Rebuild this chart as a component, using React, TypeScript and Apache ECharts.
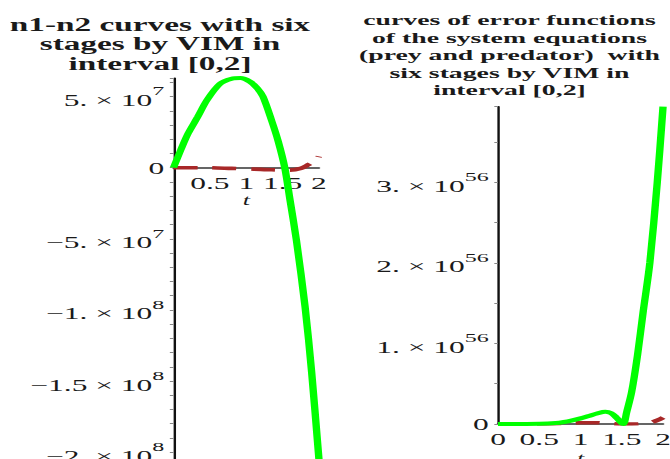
import React, { useEffect, useRef } from "react";
import * as echarts from "echarts";

// ---------- data ----------
const leftTitle = ["n1-n2 curves with six", "stages by VIM in", "interval [0,2]"];
const rightTitle = [
  "curves of error functions",
  "of the system equations",
  "(prey and predator)  with",
  "six stages by VIM in",
  "interval [0,2]",
];

// n1-n2 (left), [t, value]
const leftGreen: [number, number][] = [
  [0, 0], [0.1, 1.25e7], [0.2, 2.4e7], [0.33, 3.55e7], [0.46, 4.75e7], [0.64, 5.9e7],
  [0.8, 6.25e7], [0.92, 6.3e7], [1.05, 6.05e7], [1.15, 5.6e7], [1.23, 5.0e7],
  [1.35, 3.3e7], [1.44, 1.85e7], [1.53, 0], [1.6, -2.2e7], [1.69, -5.1e7],
  [1.81, -9.8e7], [1.9, -1.44e8], [2.0, -2.05e8],
];
const leftRed: [number, number][] = [
  [0, 0], [0.4, 0], [0.8, -0.05e7], [1.1, -0.1e7], [1.35, -0.15e7], [1.6, -0.17e7],
  [1.75, -0.05e7], [1.85, 0.2e7], [1.95, 0.5e7], [2.0, 0.8e7],
];

// error functions (right), values in units of 10^56
const rightGreenE56: [number, number][] = [
  [0, 0], [0.5, 0.003], [0.7, 0.012], [0.8, 0.025], [0.9, 0.045], [1.0, 0.07],
  [1.1, 0.1], [1.2, 0.13], [1.3, 0.152], [1.37, 0.135], [1.43, 0.085], [1.5, 0.01],
  [1.52, 0.0], [1.56, 0.15], [1.62, 0.4], [1.69, 0.85], [1.76, 1.4], [1.84, 2.0],
  [1.93, 3.0], [2.0, 3.94],
];
const rightRedE56: [number, number][] = [
  [0, 0], [0.5, 0], [0.85, 0.008], [1.0, 0.016], [1.2, 0.016], [1.35, 0.006], [1.5, 0],
  [1.7, 0.003], [1.84, 0.016], [1.96, 0.058], [2.0, 0.08],
];

const xTickValues = [0, 0.5, 1, 1.5, 2];
const leftXTickLabels = ["", "0.5", "1", "1.5", "2"];
const rightXTickLabels = ["0", "0.5", "1", "1.5", "2"];

const leftYTickValues = [5e7, 0, -5e7, -1e8, -1.5e8, -2e8];
const leftYTickMantissas = ["5.", "0", "−5.", "−1.", "−1.5", "−2."];
const leftYTickExponents = ["7", "", "7", "8", "8", "8"];

const rightYTickValues = [0, 1, 2, 3];
const rightYTickMantissas = ["0", "1.", "2.", "3."];
const rightYTickExponents = ["", "56", "56", "56"];

// ---------- layout ----------
const SX = 1.85; // horizontal stretch of the original picture
const VIEW_W = 670;
const VIEW_H = 459;
const CHART_H = 470;
const DW = VIEW_W / SX;

const LEFT_Y_MIN = -2.1e8;
const LEFT_Y_MAX = 6.3e7;
const LEFT_GRID_TOP = 78.1;
const LEFT_GRID_H = 388.2;
// distance from the bottom of the left grid up to the y = 0 line
const LEFT_ZERO_OFFSET = (LEFT_GRID_H * (0 - LEFT_Y_MIN)) / (LEFT_Y_MAX - LEFT_Y_MIN);

const FONT = "'Liberation Serif', 'Times New Roman', Times, serif";
const INK = "#1a1a1a";
const GREEN = "#00ff00";
const RED = "#a82828";

function findIdx(values: number[], v: number, tol: number) {
  return values.findIndex((t) => Math.abs(t - v) < tol);
}

function yFormatter(values: number[], mants: string[], exps: string[], tol: number) {
  return (v: number) => {
    const i = findIdx(values, v, tol);
    if (i < 0) return "";
    if (!exps[i]) return `{z|${mants[i]}}`;
    return `{m|${mants[i]} × 10}{e|${exps[i]}}`;
  };
}

function xFormatter(labels: string[]) {
  return (v: number) => {
    const i = findIdx(xTickValues, v, 1e-6);
    return i < 0 ? "" : labels[i];
  };
}

const yRich = {
  z: { fontSize: 17, fontFamily: FONT, color: INK },
  m: { fontSize: 17, fontFamily: FONT, color: INK, lineHeight: 24, verticalAlign: "bottom" },
  e: { fontSize: 13, fontFamily: FONT, color: INK, verticalAlign: "top" },
};

function xAxisOf(gridIndex: number, labels: string[], nameGap: number, offset: number) {
  return {
    type: "value",
    gridIndex,
    position: "bottom",
    offset,
    min: 0,
    max: 2,
    interval: 0.5,
    name: "t",
    nameLocation: "middle",
    nameGap,
    nameMoveOverlap: false,
    nameTextStyle: { fontFamily: FONT, fontStyle: "italic", fontSize: 14, color: INK },
    axisLine: { onZero: false, lineStyle: { color: "#333", width: 1.5 } },
    axisTick: { show: false },
    splitLine: { show: false },
    axisLabel: {
      formatter: xFormatter(labels),
      fontFamily: FONT,
      fontSize: 17,
      color: INK,
      margin: gridIndex === 0 ? 7 : 6,
    },
  };
}

function buildOption() {
  return {
    animation: false,
    backgroundColor: "#ffffff",
    title: [
      {
        text: leftTitle.join("\n"),
        left: 86.5,
        top: 15,
        textAlign: "center",
        padding: 0,
        textStyle: { fontFamily: FONT, fontSize: 18, fontWeight: "bold", color: INK, lineHeight: 19.5 },
      },
      {
        text: rightTitle.join("\n"),
        left: 275.4,
        top: 11.5,
        textAlign: "center",
        padding: 0,
        textStyle: { fontFamily: FONT, fontSize: 15, fontWeight: "bold", color: INK, lineHeight: 17.5 },
      },
    ],
    grid: [
      { left: 93.8, top: LEFT_GRID_TOP, width: 78.6, height: LEFT_GRID_H, containLabel: false, outerBoundsMode: "none" },
      { left: 269.2, top: 106.7, width: 89.2, height: 317.3, containLabel: false, outerBoundsMode: "none" },
    ],
    xAxis: [
      xAxisOf(0, leftXTickLabels, 26, -LEFT_ZERO_OFFSET),
      xAxisOf(1, rightXTickLabels, 27, 0),
    ],
    yAxis: [
      {
        type: "value",
        gridIndex: 0,
        min: LEFT_Y_MIN,
        max: LEFT_Y_MAX,
        interval: 1e7,
        axisLine: { show: true, onZero: false, lineStyle: { color: "#111", width: 1.3 } },
        axisTick: { show: true, length: 2, lineStyle: { color: "#888", width: 1 } },
        splitLine: { show: false },
        axisLabel: {
          formatter: yFormatter(leftYTickValues, leftYTickMantissas, leftYTickExponents, 1e5),
          rich: yRich,
          fontFamily: FONT,
          fontSize: 17,
          color: INK,
          margin: 5,
        },
      },
      {
        type: "value",
        gridIndex: 1,
        min: 0,
        max: 3.94,
        interval: 0.5,
        axisLine: { show: true, onZero: false, lineStyle: { color: "#111", width: 1.3 } },
        axisTick: { show: true, length: 2, lineStyle: { color: "#888", width: 1 } },
        splitLine: { show: false },
        axisLabel: {
          formatter: yFormatter(rightYTickValues, rightYTickMantissas, rightYTickExponents, 1e-6),
          rich: yRich,
          fontFamily: FONT,
          fontSize: 17,
          color: INK,
          margin: 5,
        },
      },
    ],
    series: [
      {
        type: "line",
        xAxisIndex: 0,
        yAxisIndex: 0,
        data: leftRed,
        showSymbol: false,
        smooth: 0.3,
        z: 2,
        lineStyle: { color: RED, width: 3.6, type: [13, 8] },
      },
      {
        type: "line",
        xAxisIndex: 0,
        yAxisIndex: 0,
        data: leftGreen,
        showSymbol: false,
        smooth: 0.3,
        z: 3,
        lineStyle: { color: GREEN, width: 4 },
      },
      {
        type: "line",
        xAxisIndex: 1,
        yAxisIndex: 1,
        data: rightRedE56,
        showSymbol: false,
        smooth: 0.3,
        z: 2,
        lineStyle: { color: RED, width: 3.6, type: [13, 8] },
      },
      {
        type: "line",
        xAxisIndex: 1,
        yAxisIndex: 1,
        data: rightGreenE56,
        showSymbol: false,
        smooth: 0.3,
        z: 3,
        lineStyle: { color: GREEN, width: 4 },
      },
    ],
  };
}

export default function App() {
  const ref = useRef<HTMLDivElement>(null);
  useEffect(() => {
    if (!ref.current) return;
    const chart = echarts.init(ref.current, undefined, { renderer: "svg" });
    chart.setOption(buildOption() as any);
    return () => chart.dispose();
  }, []);
  return (
    <div
      style={{
        position: "absolute",
        left: 0,
        top: 0,
        width: VIEW_W,
        height: VIEW_H,
        overflow: "hidden",
        background: "#fff",
      }}
    >
      <div
        ref={ref}
        style={{
          width: DW,
          height: CHART_H,
          transform: `scaleX(${SX})`,
          transformOrigin: "0 0",
        }}
      />
    </div>
  );
}
